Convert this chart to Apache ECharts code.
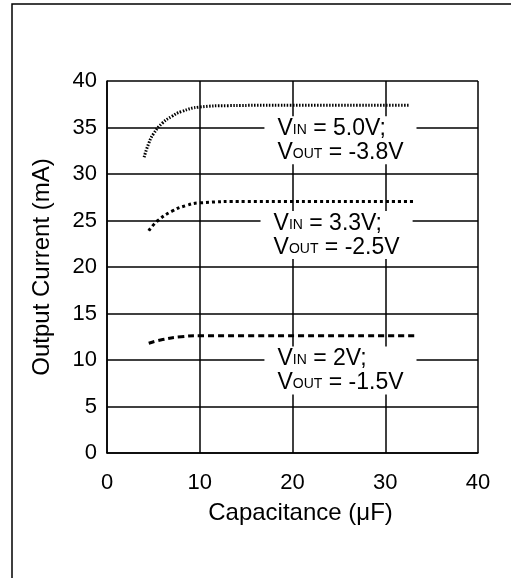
<!DOCTYPE html>
<html>
<head>
<meta charset="utf-8">
<script src="https://cdn.jsdelivr.net/npm/echarts@6/dist/echarts.min.js"></script>
<style>
  html, body { margin: 0; padding: 0; background: #fff; }
  #chart { width: 511px; height: 578px; }
</style>
</head>
<body>
<div id="chart"></div>
<script>
// 曲线数据 [电容 uF, 输出电流 mA]
const vin5 = [[4, 31.8], [4.5, 33.3], [5, 34.3], [6, 35.5], [7, 36.2], [8, 36.7], [10, 37.2], [13, 37.35], [20, 37.4], [32.6, 37.4]];
const vin33 = [[4.5, 23.9], [5.5, 25], [7, 26], [8.5, 26.6], [10, 26.9], [15, 27.05], [33, 27.05]];
const vin2 = [[4.5, 11.8], [6, 12.2], [8, 12.5], [10, 12.6], [33.5, 12.6]];

const xTicks = [0, 10, 20, 30, 40];
const yTicks = [0, 5, 10, 15, 20, 25, 30, 35, 40];

// 标注 [x, y, VIN, VOUT]
const notes = [
    [16.92, 33.62, '5.0V;', '-3.8V'],
    [16.5, 23.45, '3.3V;', '-2.5V'],
    [16.92, 8.86, '2V;', '-1.5V']
];

const font = '"Liberation Sans", Arial, sans-serif';

let chart = echarts.init(document.getElementById('chart'));

function noteLabel(n) {
    return {
        name: n[2],
        coord: [n[0], n[1]],
        symbol: 'circle',
        symbolSize: 1,
        itemStyle: { color: 'rgba(0,0,0,0)' },
        label: {
            show: true,
            position: 'right',
            distance: 0,
            backgroundColor: '#fff',
            padding: [0, 13, 0, 13],
            formatter: '{v|V}{s|IN}{v| = ' + n[2] + '}\n{v|V}{s|OUT}{v| = ' + n[3] + '}',
            rich: {
                v: { fontFamily: font, fontSize: 23, color: '#000', lineHeight: 24, verticalAlign: 'bottom' },
                s: { fontFamily: font, fontSize: 14, color: '#000', lineHeight: 14, verticalAlign: 'bottom', padding: [0, 0, 3, 0] }
            }
        }
    };
}

function curve(data, dash, note) {
    return {
        type: 'line',
        data: data,
        smooth: true,
        showSymbol: false,
        silent: true,
        lineStyle: { color: '#000', width: 3, type: dash, cap: 'butt' },
        markPoint: { silent: true, animation: false, data: [noteLabel(note)] },
        z: 3
    };
}

chart.setOption({
    animation: false,
    backgroundColor: '#fff',
    grid: { left: 107, right: 33, top: 81, bottom: 125 },
    xAxis: {
        type: 'value',
        min: 0, max: 40, interval: 10,
        name: 'Capacitance (\u03bcF)',
        nameLocation: 'middle',
        nameGap: 48,
        nameTextStyle: { fontFamily: font, fontSize: 24, color: '#000', padding: [0, 0, 0, 16] },
        axisLine: { lineStyle: { color: '#000', width: 1.5 } },
        axisTick: { show: false },
        axisLabel: { fontFamily: font, fontSize: 22, color: '#000', margin: 19,
            formatter: v => xTicks.includes(v) ? String(v) : '' },
        splitLine: { show: true, lineStyle: { color: '#000', width: 1.5 } }
    },
    yAxis: {
        type: 'value',
        min: 0, max: 40, interval: 5,
        name: 'Output Current (mA)',
        nameLocation: 'middle',
        nameGap: 53,
        nameTextStyle: { fontFamily: font, fontSize: 24, color: '#000' },
        axisLine: { show: true, lineStyle: { color: '#000', width: 1.5 } },
        axisTick: { show: false },
        axisLabel: { fontFamily: font, fontSize: 22, color: '#000', margin: 10,
            formatter: v => yTicks.includes(v) ? String(v) : '' },
        splitLine: { show: true, lineStyle: { color: '#000', width: 1.5 } }
    },
    graphic: [
        { type: 'polyline', shape: { points: [[12, 578], [12, 4], [511, 4]] }, style: { stroke: '#000', lineWidth: 1.5, fill: null } }
    ],
    series: [
        curve(vin5, [1.5, 1.5], notes[0]),
        curve(vin33, [3, 3], notes[1]),
        curve(vin2, [6, 4], notes[2])
    ]
});

window.addEventListener('resize', () => {
    chart.resize();
});
</script>
</body>
</html>
